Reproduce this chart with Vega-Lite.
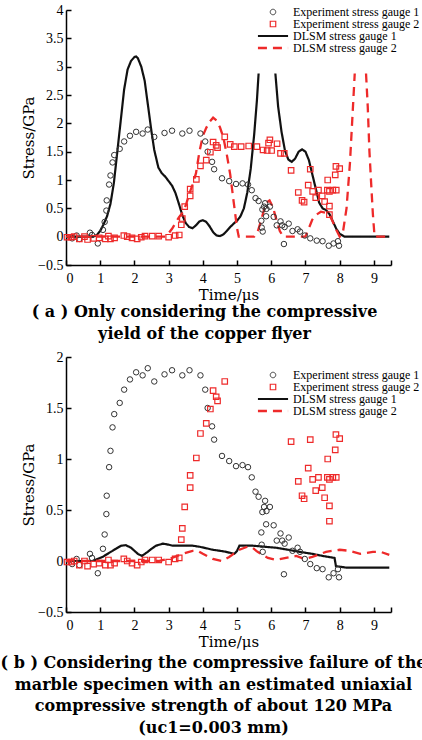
{
  "$schema": "https://vega.github.io/schema/vega-lite/v6.json",
  "padding": {"left": 0, "top": 3, "right": 0, "bottom": 0},
  "background": "white",
  "spacing": 8,
  "config": {
    "view": {"stroke": null},
    "axis": {
      "domainColor": "#000", "domainWidth": 1.5, "tickColor": "#000", "tickWidth": 1.5, "tickSize": -5,
      "labelFont": "Liberation Serif", "labelFontSize": 14, "labelColor": "#000", "labelPadding": 8,
      "titleFont": "DejaVu Serif", "titleFontSize": 15, "titleFontWeight": "normal", "titleColor": "#000",
      "grid": false
    },
    "axisX": {"labelPadding": 11, "titlePadding": 2},
    "axisY": {"titlePadding": 1},
    "legend": {
      "labelFont": "Liberation Serif", "labelFontSize": 12, "labelColor": "#000",
      "symbolOffset": 12, "labelOffset": 14, "rowPadding": -1.5, "symbolSize": 30, "padding": 0
    },
    "title": {"font": "DejaVu Serif", "fontWeight": "bold", "fontSize": 16, "color": "#000", "lineHeight": 21.5, "frame": "group"}
  },
  "datasets": {
    "exp": [
      {"t": 0.18, "s": -0.03, "series": "Experiment stress gauge 1"},
      {"t": 0.31, "s": 0.02, "series": "Experiment stress gauge 1"},
      {"t": 0.39, "s": -0.04, "series": "Experiment stress gauge 1"},
      {"t": 0.70, "s": 0.07, "series": "Experiment stress gauge 1"},
      {"t": 0.76, "s": 0.03, "series": "Experiment stress gauge 1"},
      {"t": 0.93, "s": -0.12, "series": "Experiment stress gauge 1"},
      {"t": 1.08, "s": 0.12, "series": "Experiment stress gauge 1"},
      {"t": 1.13, "s": 0.26, "series": "Experiment stress gauge 1"},
      {"t": 1.18, "s": 0.46, "series": "Experiment stress gauge 1"},
      {"t": 1.19, "s": 0.64, "series": "Experiment stress gauge 1"},
      {"t": 1.26, "s": 0.92, "series": "Experiment stress gauge 1"},
      {"t": 1.30, "s": 1.08, "series": "Experiment stress gauge 1"},
      {"t": 1.36, "s": 1.31, "series": "Experiment stress gauge 1"},
      {"t": 1.41, "s": 1.44, "series": "Experiment stress gauge 1"},
      {"t": 1.57, "s": 1.55, "series": "Experiment stress gauge 1"},
      {"t": 1.70, "s": 1.68, "series": "Experiment stress gauge 1"},
      {"t": 1.87, "s": 1.78, "series": "Experiment stress gauge 1"},
      {"t": 2.05, "s": 1.85, "series": "Experiment stress gauge 1"},
      {"t": 2.24, "s": 1.82, "series": "Experiment stress gauge 1"},
      {"t": 2.39, "s": 1.89, "series": "Experiment stress gauge 1"},
      {"t": 2.58, "s": 1.76, "series": "Experiment stress gauge 1"},
      {"t": 2.88, "s": 1.83, "series": "Experiment stress gauge 1"},
      {"t": 3.10, "s": 1.87, "series": "Experiment stress gauge 1"},
      {"t": 3.40, "s": 1.82, "series": "Experiment stress gauge 1"},
      {"t": 3.61, "s": 1.87, "series": "Experiment stress gauge 1"},
      {"t": 3.93, "s": 1.82, "series": "Experiment stress gauge 1"},
      {"t": 4.07, "s": 1.68, "series": "Experiment stress gauge 1"},
      {"t": 4.14, "s": 1.50, "series": "Experiment stress gauge 1"},
      {"t": 4.27, "s": 1.32, "series": "Experiment stress gauge 1"},
      {"t": 4.33, "s": 1.19, "series": "Experiment stress gauge 1"},
      {"t": 4.56, "s": 1.03, "series": "Experiment stress gauge 1"},
      {"t": 4.77, "s": 0.98, "series": "Experiment stress gauge 1"},
      {"t": 4.97, "s": 0.93, "series": "Experiment stress gauge 1"},
      {"t": 5.16, "s": 0.94, "series": "Experiment stress gauge 1"},
      {"t": 5.32, "s": 0.92, "series": "Experiment stress gauge 1"},
      {"t": 5.43, "s": 0.82, "series": "Experiment stress gauge 1"},
      {"t": 5.54, "s": 0.68, "series": "Experiment stress gauge 1"},
      {"t": 5.63, "s": 0.63, "series": "Experiment stress gauge 1"},
      {"t": 5.82, "s": 0.59, "series": "Experiment stress gauge 1"},
      {"t": 5.74, "s": 0.48, "series": "Experiment stress gauge 1"},
      {"t": 5.86, "s": 0.49, "series": "Experiment stress gauge 1"},
      {"t": 5.96, "s": 0.53, "series": "Experiment stress gauge 1"},
      {"t": 5.79, "s": 0.53, "series": "Experiment stress gauge 1"},
      {"t": 5.71, "s": 0.28, "series": "Experiment stress gauge 1"},
      {"t": 5.85, "s": 0.36, "series": "Experiment stress gauge 1"},
      {"t": 6.07, "s": 0.35, "series": "Experiment stress gauge 1"},
      {"t": 5.72, "s": 0.16, "series": "Experiment stress gauge 1"},
      {"t": 5.75, "s": 0.09, "series": "Experiment stress gauge 1"},
      {"t": 6.27, "s": 0.27, "series": "Experiment stress gauge 1"},
      {"t": 6.16, "s": 0.20, "series": "Experiment stress gauge 1"},
      {"t": 6.32, "s": 0.20, "series": "Experiment stress gauge 1"},
      {"t": 6.39, "s": 0.17, "series": "Experiment stress gauge 1"},
      {"t": 6.51, "s": 0.23, "series": "Experiment stress gauge 1"},
      {"t": 6.37, "s": -0.13, "series": "Experiment stress gauge 1"},
      {"t": 6.62, "s": 0.10, "series": "Experiment stress gauge 1"},
      {"t": 6.77, "s": 0.13, "series": "Experiment stress gauge 1"},
      {"t": 6.84, "s": 0.09, "series": "Experiment stress gauge 1"},
      {"t": 6.98, "s": 0.02, "series": "Experiment stress gauge 1"},
      {"t": 7.14, "s": -0.03, "series": "Experiment stress gauge 1"},
      {"t": 7.33, "s": -0.07, "series": "Experiment stress gauge 1"},
      {"t": 7.50, "s": -0.08, "series": "Experiment stress gauge 1"},
      {"t": 7.68, "s": -0.16, "series": "Experiment stress gauge 1"},
      {"t": 7.82, "s": -0.12, "series": "Experiment stress gauge 1"},
      {"t": 7.95, "s": -0.08, "series": "Experiment stress gauge 1"},
      {"t": 7.98, "s": -0.16, "series": "Experiment stress gauge 1"},
      {"t": 0.03, "s": -0.01, "series": "Experiment stress gauge 2"},
      {"t": 0.15, "s": -0.01, "series": "Experiment stress gauge 2"},
      {"t": 0.24, "s": 0.0, "series": "Experiment stress gauge 2"},
      {"t": 0.39, "s": -0.04, "series": "Experiment stress gauge 2"},
      {"t": 0.54, "s": 0.0, "series": "Experiment stress gauge 2"},
      {"t": 0.63, "s": -0.05, "series": "Experiment stress gauge 2"},
      {"t": 0.81, "s": -0.03, "series": "Experiment stress gauge 2"},
      {"t": 0.97, "s": -0.02, "series": "Experiment stress gauge 2"},
      {"t": 1.15, "s": -0.04, "series": "Experiment stress gauge 2"},
      {"t": 1.24, "s": 0.01, "series": "Experiment stress gauge 2"},
      {"t": 1.30, "s": -0.04, "series": "Experiment stress gauge 2"},
      {"t": 1.42, "s": -0.02, "series": "Experiment stress gauge 2"},
      {"t": 1.69, "s": 0.02, "series": "Experiment stress gauge 2"},
      {"t": 1.79, "s": 0.0, "series": "Experiment stress gauge 2"},
      {"t": 1.93, "s": -0.02, "series": "Experiment stress gauge 2"},
      {"t": 2.08, "s": -0.04, "series": "Experiment stress gauge 2"},
      {"t": 2.20, "s": -0.01, "series": "Experiment stress gauge 2"},
      {"t": 2.31, "s": 0.01, "series": "Experiment stress gauge 2"},
      {"t": 2.52, "s": 0.01, "series": "Experiment stress gauge 2"},
      {"t": 2.71, "s": 0.01, "series": "Experiment stress gauge 2"},
      {"t": 3.00, "s": -0.01, "series": "Experiment stress gauge 2"},
      {"t": 3.19, "s": 0.02, "series": "Experiment stress gauge 2"},
      {"t": 3.31, "s": 0.03, "series": "Experiment stress gauge 2"},
      {"t": 3.37, "s": 0.21, "series": "Experiment stress gauge 2"},
      {"t": 3.40, "s": 0.32, "series": "Experiment stress gauge 2"},
      {"t": 3.47, "s": 0.53, "series": "Experiment stress gauge 2"},
      {"t": 3.63, "s": 0.72, "series": "Experiment stress gauge 2"},
      {"t": 3.63, "s": 0.84, "series": "Experiment stress gauge 2"},
      {"t": 3.81, "s": 1.01, "series": "Experiment stress gauge 2"},
      {"t": 3.93, "s": 1.25, "series": "Experiment stress gauge 2"},
      {"t": 4.10, "s": 1.35, "series": "Experiment stress gauge 2"},
      {"t": 4.22, "s": 1.49, "series": "Experiment stress gauge 2"},
      {"t": 4.30, "s": 1.67, "series": "Experiment stress gauge 2"},
      {"t": 4.39, "s": 1.61, "series": "Experiment stress gauge 2"},
      {"t": 4.43, "s": 1.57, "series": "Experiment stress gauge 2"},
      {"t": 4.64, "s": 1.76, "series": "Experiment stress gauge 2"},
      {"t": 6.58, "s": 1.17, "series": "Experiment stress gauge 2"},
      {"t": 6.79, "s": 0.78, "series": "Experiment stress gauge 2"},
      {"t": 6.90, "s": 0.64, "series": "Experiment stress gauge 2"},
      {"t": 6.96, "s": 0.61, "series": "Experiment stress gauge 2"},
      {"t": 7.08, "s": 0.91, "series": "Experiment stress gauge 2"},
      {"t": 7.14, "s": 1.19, "series": "Experiment stress gauge 2"},
      {"t": 7.21, "s": 0.80, "series": "Experiment stress gauge 2"},
      {"t": 7.30, "s": 0.69, "series": "Experiment stress gauge 2"},
      {"t": 7.38, "s": 0.82, "series": "Experiment stress gauge 2"},
      {"t": 7.49, "s": 0.72, "series": "Experiment stress gauge 2"},
      {"t": 7.56, "s": 0.62, "series": "Experiment stress gauge 2"},
      {"t": 7.65, "s": 1.00, "series": "Experiment stress gauge 2"},
      {"t": 7.64, "s": 0.82, "series": "Experiment stress gauge 2"},
      {"t": 7.70, "s": 0.54, "series": "Experiment stress gauge 2"},
      {"t": 7.70, "s": 0.80, "series": "Experiment stress gauge 2"},
      {"t": 7.80, "s": 0.82, "series": "Experiment stress gauge 2"},
      {"t": 7.87, "s": 1.09, "series": "Experiment stress gauge 2"},
      {"t": 7.90, "s": 0.82, "series": "Experiment stress gauge 2"},
      {"t": 7.89, "s": 1.24, "series": "Experiment stress gauge 2"},
      {"t": 8.00, "s": 1.20, "series": "Experiment stress gauge 2"},
      {"t": 7.70, "s": 0.39, "series": "Experiment stress gauge 2"}
    ],
    "expAextra": [
      {"t": 4.80, "s": 1.63, "series": "Experiment stress gauge 2"},
      {"t": 4.92, "s": 1.59, "series": "Experiment stress gauge 2"},
      {"t": 5.12, "s": 1.59, "series": "Experiment stress gauge 2"},
      {"t": 5.34, "s": 1.60, "series": "Experiment stress gauge 2"},
      {"t": 5.58, "s": 1.59, "series": "Experiment stress gauge 2"},
      {"t": 5.76, "s": 1.53, "series": "Experiment stress gauge 2"},
      {"t": 5.88, "s": 1.52, "series": "Experiment stress gauge 2"},
      {"t": 6.01, "s": 1.52, "series": "Experiment stress gauge 2"},
      {"t": 5.96, "s": 1.71, "series": "Experiment stress gauge 2"},
      {"t": 5.92, "s": 1.65, "series": "Experiment stress gauge 2"},
      {"t": 6.17, "s": 1.64, "series": "Experiment stress gauge 2"},
      {"t": 6.27, "s": 1.47, "series": "Experiment stress gauge 2"},
      {"t": 6.38, "s": 1.47, "series": "Experiment stress gauge 2"}
    ],
    "dlsmA": [
      {"t": 0, "s": 0, "series": "DLSM stress gauge 1", "seg": 1},
      {"t": 0.8, "s": 0.0, "series": "DLSM stress gauge 1", "seg": 1},
      {"t": 0.9, "s": 0.03, "series": "DLSM stress gauge 1", "seg": 1},
      {"t": 1.0, "s": 0.1, "series": "DLSM stress gauge 1", "seg": 1},
      {"t": 1.1, "s": 0.22, "series": "DLSM stress gauge 1", "seg": 1},
      {"t": 1.2, "s": 0.36, "series": "DLSM stress gauge 1", "seg": 1},
      {"t": 1.3, "s": 0.58, "series": "DLSM stress gauge 1", "seg": 1},
      {"t": 1.4, "s": 0.95, "series": "DLSM stress gauge 1", "seg": 1},
      {"t": 1.5, "s": 1.5, "series": "DLSM stress gauge 1", "seg": 1},
      {"t": 1.6, "s": 2.05, "series": "DLSM stress gauge 1", "seg": 1},
      {"t": 1.7, "s": 2.6, "series": "DLSM stress gauge 1", "seg": 1},
      {"t": 1.8, "s": 2.95, "series": "DLSM stress gauge 1", "seg": 1},
      {"t": 1.9, "s": 3.1, "series": "DLSM stress gauge 1", "seg": 1},
      {"t": 2.0, "s": 3.17, "series": "DLSM stress gauge 1", "seg": 1},
      {"t": 2.05, "s": 3.18, "series": "DLSM stress gauge 1", "seg": 1},
      {"t": 2.1, "s": 3.15, "series": "DLSM stress gauge 1", "seg": 1},
      {"t": 2.2, "s": 3.0, "series": "DLSM stress gauge 1", "seg": 1},
      {"t": 2.3, "s": 2.75, "series": "DLSM stress gauge 1", "seg": 1},
      {"t": 2.4, "s": 2.3, "series": "DLSM stress gauge 1", "seg": 1},
      {"t": 2.5, "s": 1.85, "series": "DLSM stress gauge 1", "seg": 1},
      {"t": 2.58, "s": 1.53, "series": "DLSM stress gauge 1", "seg": 1},
      {"t": 2.7, "s": 1.22, "series": "DLSM stress gauge 1", "seg": 1},
      {"t": 2.8, "s": 1.12, "series": "DLSM stress gauge 1", "seg": 1},
      {"t": 2.9, "s": 1.06, "series": "DLSM stress gauge 1", "seg": 1},
      {"t": 3.0, "s": 0.98, "series": "DLSM stress gauge 1", "seg": 1},
      {"t": 3.1, "s": 0.9, "series": "DLSM stress gauge 1", "seg": 1},
      {"t": 3.2, "s": 0.77, "series": "DLSM stress gauge 1", "seg": 1},
      {"t": 3.3, "s": 0.58, "series": "DLSM stress gauge 1", "seg": 1},
      {"t": 3.4, "s": 0.38, "series": "DLSM stress gauge 1", "seg": 1},
      {"t": 3.5, "s": 0.24, "series": "DLSM stress gauge 1", "seg": 1},
      {"t": 3.6, "s": 0.17, "series": "DLSM stress gauge 1", "seg": 1},
      {"t": 3.7, "s": 0.15, "series": "DLSM stress gauge 1", "seg": 1},
      {"t": 3.8, "s": 0.2, "series": "DLSM stress gauge 1", "seg": 1},
      {"t": 3.9, "s": 0.27, "series": "DLSM stress gauge 1", "seg": 1},
      {"t": 4.0, "s": 0.29, "series": "DLSM stress gauge 1", "seg": 1},
      {"t": 4.1, "s": 0.26, "series": "DLSM stress gauge 1", "seg": 1},
      {"t": 4.2, "s": 0.18, "series": "DLSM stress gauge 1", "seg": 1},
      {"t": 4.3, "s": 0.08, "series": "DLSM stress gauge 1", "seg": 1},
      {"t": 4.4, "s": 0.02, "series": "DLSM stress gauge 1", "seg": 1},
      {"t": 4.5, "s": 0.01, "series": "DLSM stress gauge 1", "seg": 1},
      {"t": 4.6, "s": 0.04, "series": "DLSM stress gauge 1", "seg": 1},
      {"t": 4.7, "s": 0.1, "series": "DLSM stress gauge 1", "seg": 1},
      {"t": 4.8, "s": 0.17, "series": "DLSM stress gauge 1", "seg": 1},
      {"t": 4.9, "s": 0.23, "series": "DLSM stress gauge 1", "seg": 1},
      {"t": 5.0, "s": 0.28, "series": "DLSM stress gauge 1", "seg": 1},
      {"t": 5.1, "s": 0.36, "series": "DLSM stress gauge 1", "seg": 1},
      {"t": 5.2, "s": 0.5, "series": "DLSM stress gauge 1", "seg": 1},
      {"t": 5.3, "s": 0.78, "series": "DLSM stress gauge 1", "seg": 1},
      {"t": 5.4, "s": 1.2, "series": "DLSM stress gauge 1", "seg": 1},
      {"t": 5.5, "s": 1.8, "series": "DLSM stress gauge 1", "seg": 1},
      {"t": 5.58, "s": 2.4, "series": "DLSM stress gauge 1", "seg": 1},
      {"t": 5.63, "s": 2.88, "series": "DLSM stress gauge 1", "seg": 1},
      {"t": 6.12, "s": 2.88, "series": "DLSM stress gauge 1", "seg": 2},
      {"t": 6.2, "s": 2.3, "series": "DLSM stress gauge 1", "seg": 2},
      {"t": 6.3, "s": 1.85, "series": "DLSM stress gauge 1", "seg": 2},
      {"t": 6.4, "s": 1.52, "series": "DLSM stress gauge 1", "seg": 2},
      {"t": 6.5, "s": 1.36, "series": "DLSM stress gauge 1", "seg": 2},
      {"t": 6.6, "s": 1.32, "series": "DLSM stress gauge 1", "seg": 2},
      {"t": 6.7, "s": 1.38, "series": "DLSM stress gauge 1", "seg": 2},
      {"t": 6.8, "s": 1.5, "series": "DLSM stress gauge 1", "seg": 2},
      {"t": 6.9, "s": 1.54, "series": "DLSM stress gauge 1", "seg": 2},
      {"t": 7.0, "s": 1.5, "series": "DLSM stress gauge 1", "seg": 2},
      {"t": 7.1, "s": 1.35, "series": "DLSM stress gauge 1", "seg": 2},
      {"t": 7.2, "s": 1.1, "series": "DLSM stress gauge 1", "seg": 2},
      {"t": 7.3, "s": 0.85, "series": "DLSM stress gauge 1", "seg": 2},
      {"t": 7.4, "s": 0.6, "series": "DLSM stress gauge 1", "seg": 2},
      {"t": 7.5, "s": 0.5, "series": "DLSM stress gauge 1", "seg": 2},
      {"t": 7.6, "s": 0.47, "series": "DLSM stress gauge 1", "seg": 2},
      {"t": 7.7, "s": 0.4, "series": "DLSM stress gauge 1", "seg": 2},
      {"t": 7.8, "s": 0.27, "series": "DLSM stress gauge 1", "seg": 2},
      {"t": 7.9, "s": 0.14, "series": "DLSM stress gauge 1", "seg": 2},
      {"t": 8.0, "s": 0.05, "series": "DLSM stress gauge 1", "seg": 2},
      {"t": 8.14, "s": 0.0, "series": "DLSM stress gauge 1", "seg": 2},
      {"t": 9.45, "s": 0.0, "series": "DLSM stress gauge 1", "seg": 2},
      {"t": 0, "s": 0, "series": "DLSM stress gauge 2", "seg": 3},
      {"t": 2.9, "s": 0.0, "series": "DLSM stress gauge 2", "seg": 3},
      {"t": 3.0, "s": 0.06, "series": "DLSM stress gauge 2", "seg": 3},
      {"t": 3.1, "s": 0.14, "series": "DLSM stress gauge 2", "seg": 3},
      {"t": 3.2, "s": 0.24, "series": "DLSM stress gauge 2", "seg": 3},
      {"t": 3.3, "s": 0.34, "series": "DLSM stress gauge 2", "seg": 3},
      {"t": 3.4, "s": 0.42, "series": "DLSM stress gauge 2", "seg": 3},
      {"t": 3.5, "s": 0.55, "series": "DLSM stress gauge 2", "seg": 3},
      {"t": 3.6, "s": 0.75, "series": "DLSM stress gauge 2", "seg": 3},
      {"t": 3.7, "s": 0.92, "series": "DLSM stress gauge 2", "seg": 3},
      {"t": 3.8, "s": 1.12, "series": "DLSM stress gauge 2", "seg": 3},
      {"t": 3.9, "s": 1.5, "series": "DLSM stress gauge 2", "seg": 3},
      {"t": 4.0, "s": 1.78, "series": "DLSM stress gauge 2", "seg": 3},
      {"t": 4.1, "s": 1.92, "series": "DLSM stress gauge 2", "seg": 3},
      {"t": 4.2, "s": 2.03, "series": "DLSM stress gauge 2", "seg": 3},
      {"t": 4.3, "s": 2.1, "series": "DLSM stress gauge 2", "seg": 3},
      {"t": 4.4, "s": 2.05, "series": "DLSM stress gauge 2", "seg": 3},
      {"t": 4.5, "s": 1.93, "series": "DLSM stress gauge 2", "seg": 3},
      {"t": 4.6, "s": 1.75, "series": "DLSM stress gauge 2", "seg": 3},
      {"t": 4.7, "s": 1.45, "series": "DLSM stress gauge 2", "seg": 3},
      {"t": 4.8, "s": 1.1, "series": "DLSM stress gauge 2", "seg": 3},
      {"t": 4.9, "s": 0.62, "series": "DLSM stress gauge 2", "seg": 3},
      {"t": 5.0, "s": 0.15, "series": "DLSM stress gauge 2", "seg": 3},
      {"t": 5.05, "s": 0.0, "series": "DLSM stress gauge 2", "seg": 3},
      {"t": 5.5, "s": 0.0, "series": "DLSM stress gauge 2", "seg": 3},
      {"t": 5.6, "s": 0.08, "series": "DLSM stress gauge 2", "seg": 3},
      {"t": 5.7, "s": 0.28, "series": "DLSM stress gauge 2", "seg": 3},
      {"t": 5.8, "s": 0.5, "series": "DLSM stress gauge 2", "seg": 3},
      {"t": 5.9, "s": 0.62, "series": "DLSM stress gauge 2", "seg": 3},
      {"t": 5.95, "s": 0.64, "series": "DLSM stress gauge 2", "seg": 3},
      {"t": 6.05, "s": 0.52, "series": "DLSM stress gauge 2", "seg": 3},
      {"t": 6.15, "s": 0.3, "series": "DLSM stress gauge 2", "seg": 3},
      {"t": 6.25, "s": 0.1, "series": "DLSM stress gauge 2", "seg": 3},
      {"t": 6.35, "s": 0.0, "series": "DLSM stress gauge 2", "seg": 3},
      {"t": 7.0, "s": 0.0, "series": "DLSM stress gauge 2", "seg": 3},
      {"t": 7.1, "s": 0.15, "series": "DLSM stress gauge 2", "seg": 3},
      {"t": 7.2, "s": 0.3, "series": "DLSM stress gauge 2", "seg": 3},
      {"t": 7.3, "s": 0.38, "series": "DLSM stress gauge 2", "seg": 3},
      {"t": 7.45, "s": 0.44, "series": "DLSM stress gauge 2", "seg": 3},
      {"t": 7.6, "s": 0.42, "series": "DLSM stress gauge 2", "seg": 3},
      {"t": 7.75, "s": 0.33, "series": "DLSM stress gauge 2", "seg": 3},
      {"t": 7.9, "s": 0.12, "series": "DLSM stress gauge 2", "seg": 3},
      {"t": 8.0, "s": 0.0, "series": "DLSM stress gauge 2", "seg": 3},
      {"t": 8.1, "s": 0.1, "series": "DLSM stress gauge 2", "seg": 3},
      {"t": 8.2, "s": 0.5, "series": "DLSM stress gauge 2", "seg": 3},
      {"t": 8.3, "s": 1.3, "series": "DLSM stress gauge 2", "seg": 3},
      {"t": 8.38, "s": 2.2, "series": "DLSM stress gauge 2", "seg": 3},
      {"t": 8.44, "s": 2.88, "series": "DLSM stress gauge 2", "seg": 3},
      {"t": 8.77, "s": 2.88, "series": "DLSM stress gauge 2", "seg": 4},
      {"t": 8.82, "s": 2.3, "series": "DLSM stress gauge 2", "seg": 4},
      {"t": 8.87, "s": 1.5, "series": "DLSM stress gauge 2", "seg": 4},
      {"t": 8.92, "s": 0.94, "series": "DLSM stress gauge 2", "seg": 4},
      {"t": 8.97, "s": 0.4, "series": "DLSM stress gauge 2", "seg": 4},
      {"t": 9.02, "s": 0.0, "series": "DLSM stress gauge 2", "seg": 4},
      {"t": 9.45, "s": 0.0, "series": "DLSM stress gauge 2", "seg": 4}
    ],
    "dlsmB": [
      {"t": 0, "s": 0, "series": "DLSM stress gauge 1", "seg": 1},
      {"t": 0.78, "s": 0.0, "series": "DLSM stress gauge 1", "seg": 1},
      {"t": 1.07, "s": 0.04, "series": "DLSM stress gauge 1", "seg": 1},
      {"t": 1.36, "s": 0.1, "series": "DLSM stress gauge 1", "seg": 1},
      {"t": 1.61, "s": 0.15, "series": "DLSM stress gauge 1", "seg": 1},
      {"t": 1.75, "s": 0.155, "series": "DLSM stress gauge 1", "seg": 1},
      {"t": 1.9, "s": 0.13, "series": "DLSM stress gauge 1", "seg": 1},
      {"t": 2.0, "s": 0.1, "series": "DLSM stress gauge 1", "seg": 1},
      {"t": 2.1, "s": 0.07, "series": "DLSM stress gauge 1", "seg": 1},
      {"t": 2.22, "s": 0.05, "series": "DLSM stress gauge 1", "seg": 1},
      {"t": 2.39, "s": 0.09, "series": "DLSM stress gauge 1", "seg": 1},
      {"t": 2.5, "s": 0.12, "series": "DLSM stress gauge 1", "seg": 1},
      {"t": 2.63, "s": 0.15, "series": "DLSM stress gauge 1", "seg": 1},
      {"t": 2.83, "s": 0.17, "series": "DLSM stress gauge 1", "seg": 1},
      {"t": 3.0, "s": 0.16, "series": "DLSM stress gauge 1", "seg": 1},
      {"t": 3.12, "s": 0.15, "series": "DLSM stress gauge 1", "seg": 1},
      {"t": 3.3, "s": 0.15, "series": "DLSM stress gauge 1", "seg": 1},
      {"t": 3.51, "s": 0.15, "series": "DLSM stress gauge 1", "seg": 1},
      {"t": 3.7, "s": 0.15, "series": "DLSM stress gauge 1", "seg": 1},
      {"t": 3.9, "s": 0.14, "series": "DLSM stress gauge 1", "seg": 1},
      {"t": 4.1, "s": 0.125, "series": "DLSM stress gauge 1", "seg": 1},
      {"t": 4.29, "s": 0.11, "series": "DLSM stress gauge 1", "seg": 1},
      {"t": 4.5, "s": 0.1, "series": "DLSM stress gauge 1", "seg": 1},
      {"t": 4.68, "s": 0.09, "series": "DLSM stress gauge 1", "seg": 1},
      {"t": 4.92, "s": 0.07, "series": "DLSM stress gauge 1", "seg": 1},
      {"t": 5.0, "s": 0.1, "series": "DLSM stress gauge 1", "seg": 1},
      {"t": 5.07, "s": 0.15, "series": "DLSM stress gauge 1", "seg": 1},
      {"t": 5.46, "s": 0.15, "series": "DLSM stress gauge 1", "seg": 1},
      {"t": 5.8, "s": 0.14, "series": "DLSM stress gauge 1", "seg": 1},
      {"t": 6.14, "s": 0.13, "series": "DLSM stress gauge 1", "seg": 1},
      {"t": 6.5, "s": 0.11, "series": "DLSM stress gauge 1", "seg": 1},
      {"t": 6.82, "s": 0.09, "series": "DLSM stress gauge 1", "seg": 1},
      {"t": 7.2, "s": 0.07, "series": "DLSM stress gauge 1", "seg": 1},
      {"t": 7.5, "s": 0.05, "series": "DLSM stress gauge 1", "seg": 1},
      {"t": 7.85, "s": 0.03, "series": "DLSM stress gauge 1", "seg": 1},
      {"t": 7.89, "s": -0.05, "series": "DLSM stress gauge 1", "seg": 1},
      {"t": 8.19, "s": -0.065, "series": "DLSM stress gauge 1", "seg": 1},
      {"t": 9.45, "s": -0.065, "series": "DLSM stress gauge 1", "seg": 1},
      {"t": 0, "s": 0, "series": "DLSM stress gauge 2", "seg": 2},
      {"t": 2.7, "s": 0.0, "series": "DLSM stress gauge 2", "seg": 2},
      {"t": 3.1, "s": 0.03, "series": "DLSM stress gauge 2", "seg": 2},
      {"t": 3.41, "s": 0.07, "series": "DLSM stress gauge 2", "seg": 2},
      {"t": 3.7, "s": 0.1, "series": "DLSM stress gauge 2", "seg": 2},
      {"t": 3.85, "s": 0.1, "series": "DLSM stress gauge 2", "seg": 2},
      {"t": 4.0, "s": 0.07, "series": "DLSM stress gauge 2", "seg": 2},
      {"t": 4.29, "s": 0.02, "series": "DLSM stress gauge 2", "seg": 2},
      {"t": 4.55, "s": 0.0, "series": "DLSM stress gauge 2", "seg": 2},
      {"t": 4.77, "s": 0.04, "series": "DLSM stress gauge 2", "seg": 2},
      {"t": 5.07, "s": 0.11, "series": "DLSM stress gauge 2", "seg": 2},
      {"t": 5.3, "s": 0.14, "series": "DLSM stress gauge 2", "seg": 2},
      {"t": 5.45, "s": 0.13, "series": "DLSM stress gauge 2", "seg": 2},
      {"t": 5.6, "s": 0.09, "series": "DLSM stress gauge 2", "seg": 2},
      {"t": 5.9, "s": 0.03, "series": "DLSM stress gauge 2", "seg": 2},
      {"t": 6.14, "s": 0.01, "series": "DLSM stress gauge 2", "seg": 2},
      {"t": 6.43, "s": 0.03, "series": "DLSM stress gauge 2", "seg": 2},
      {"t": 6.73, "s": 0.05, "series": "DLSM stress gauge 2", "seg": 2},
      {"t": 6.97, "s": 0.02, "series": "DLSM stress gauge 2", "seg": 2},
      {"t": 7.2, "s": 0.04, "series": "DLSM stress gauge 2", "seg": 2},
      {"t": 7.6, "s": 0.09, "series": "DLSM stress gauge 2", "seg": 2},
      {"t": 8.0, "s": 0.11, "series": "DLSM stress gauge 2", "seg": 2},
      {"t": 8.28, "s": 0.1, "series": "DLSM stress gauge 2", "seg": 2},
      {"t": 8.6, "s": 0.07, "series": "DLSM stress gauge 2", "seg": 2},
      {"t": 8.97, "s": 0.09, "series": "DLSM stress gauge 2", "seg": 2},
      {"t": 9.2, "s": 0.09, "series": "DLSM stress gauge 2", "seg": 2},
      {"t": 9.45, "s": 0.06, "series": "DLSM stress gauge 2", "seg": 2}
    ]
  },
  "resolve": {
    "scale": {"color": "independent", "shape": "independent", "strokeDash": "independent", "strokeWidth": "independent"},
    "legend": {"color": "independent", "shape": "independent", "strokeDash": "independent", "strokeWidth": "independent"}
  },
  "vconcat": [
    {
      "width": 325,
      "height": 255,
      "title": {"text": ["( a ) Only considering the compressive", "yield of the copper flyer"], "orient": "bottom", "anchor": "middle", "offset": 2, "dx": -24},
      "encoding": {
        "x": {"field": "t", "type": "quantitative", "scale": {"domain": [0, 9.5], "nice": false},
              "axis": {"title": "Time/μs", "values": [0, 1, 2, 3, 4, 5, 6, 7, 8, 9, 9.5], "labelExpr": "datum.value == 9.5 ? '' : datum.label"}},
        "y": {"field": "s", "type": "quantitative", "scale": {"domain": [-0.5, 4], "nice": false},
              "axis": {"title": "Stress/GPa", "values": [-0.5, 0, 0.5, 1, 1.5, 2, 2.5, 3, 3.5, 4], "format": "~g"}}
      },
      "layer": [
        {
          "data": {"name": "dlsmA"},
          "mark": {"type": "line", "clip": true},
          "encoding": {
            "detail": {"field": "seg", "type": "nominal"},
            "color": {"field": "series", "type": "nominal", "scale": {"domain": ["Experiment stress gauge 1", "Experiment stress gauge 2", "DLSM stress gauge 1", "DLSM stress gauge 2"], "range": ["#333333", "#ee2a2a", "#111111", "#ee2a2a"]}, "legend": {"title": null, "orient": "none", "legendX": 189, "legendY": -4}},
            "strokeDash": {"field": "series", "type": "nominal", "scale": {"domain": ["Experiment stress gauge 1", "Experiment stress gauge 2", "DLSM stress gauge 1", "DLSM stress gauge 2"], "range": [[1, 0], [1, 0], [1, 0], [9, 6]]}, "legend": {"title": null, "orient": "none", "legendX": 189, "legendY": -4}},
            "strokeWidth": {"field": "series", "type": "nominal", "scale": {"type": "ordinal", "domain": ["Experiment stress gauge 1", "Experiment stress gauge 2", "DLSM stress gauge 1", "DLSM stress gauge 2"], "range": [1, 1.2, 2.2, 2.3]}, "legend": {"title": null, "orient": "none", "legendX": 189, "legendY": -4}}
          }
        },
        {
          "data": {"name": "exp"},
          "mark": {"type": "point", "filled": false, "size": 30, "opacity": 1},
          "encoding": {
            "color": {"field": "series", "type": "nominal", "scale": {"domain": ["Experiment stress gauge 1", "Experiment stress gauge 2", "DLSM stress gauge 1", "DLSM stress gauge 2"], "range": ["#333333", "#ee2a2a", "#111111", "#ee2a2a"]}, "legend": {"title": null, "orient": "none", "legendX": 189, "legendY": -4}},
            "shape": {"field": "series", "type": "nominal", "scale": {"domain": ["Experiment stress gauge 1", "Experiment stress gauge 2", "DLSM stress gauge 1", "DLSM stress gauge 2"], "range": ["circle", "square", "M-5.5,0H5.5", "M-5.5,0H5.5"]}, "legend": {"title": null, "orient": "none", "legendX": 189, "legendY": -4}},
            "strokeWidth": {"field": "series", "type": "nominal", "scale": {"type": "ordinal", "domain": ["Experiment stress gauge 1", "Experiment stress gauge 2", "DLSM stress gauge 1", "DLSM stress gauge 2"], "range": [1, 1.2, 2.2, 2.3]}, "legend": {"title": null, "orient": "none", "legendX": 189, "legendY": -4}}
          }
        },
        {
          "data": {"name": "expAextra"},
          "mark": {"type": "point", "filled": false, "size": 30, "opacity": 1},
          "encoding": {
            "color": {"field": "series", "type": "nominal", "scale": {"domain": ["Experiment stress gauge 1", "Experiment stress gauge 2", "DLSM stress gauge 1", "DLSM stress gauge 2"], "range": ["#333333", "#ee2a2a", "#111111", "#ee2a2a"]}, "legend": {"title": null, "orient": "none", "legendX": 189, "legendY": -4}},
            "shape": {"field": "series", "type": "nominal", "scale": {"domain": ["Experiment stress gauge 1", "Experiment stress gauge 2", "DLSM stress gauge 1", "DLSM stress gauge 2"], "range": ["circle", "square", "M-5.5,0H5.5", "M-5.5,0H5.5"]}, "legend": {"title": null, "orient": "none", "legendX": 189, "legendY": -4}},
            "strokeWidth": {"field": "series", "type": "nominal", "scale": {"type": "ordinal", "domain": ["Experiment stress gauge 1", "Experiment stress gauge 2", "DLSM stress gauge 1", "DLSM stress gauge 2"], "range": [1, 1.2, 2.2, 2.3]}, "legend": {"title": null, "orient": "none", "legendX": 189, "legendY": -4}}
          }
        }
      ]
    },
    {
      "width": 325,
      "height": 255,
      "title": {"text": ["( b ) Considering the compressive failure of the", "marble specimen with an estimated uniaxial", "compressive strength of about 120 MPa", "(uc1=0.003 mm)"], "orient": "bottom", "anchor": "middle", "offset": 6, "dx": -15},
      "encoding": {
        "x": {"field": "t", "type": "quantitative", "scale": {"domain": [0, 9.5], "nice": false},
              "axis": {"title": "Time/μs", "values": [0, 1, 2, 3, 4, 5, 6, 7, 8, 9, 9.5], "labelExpr": "datum.value == 9.5 ? '' : datum.label"}},
        "y": {"field": "s", "type": "quantitative", "scale": {"domain": [-0.5, 2], "nice": false},
              "axis": {"title": "Stress/GPa", "values": [-0.5, 0, 0.5, 1, 1.5, 2], "format": "~g"}}
      },
      "layer": [
        {
          "data": {"name": "dlsmB"},
          "mark": {"type": "line", "clip": true},
          "encoding": {
            "detail": {"field": "seg", "type": "nominal"},
            "color": {"field": "series", "type": "nominal", "scale": {"domain": ["Experiment stress gauge 1", "Experiment stress gauge 2", "DLSM stress gauge 1", "DLSM stress gauge 2"], "range": ["#333333", "#ee2a2a", "#111111", "#ee2a2a"]}, "legend": {"title": null, "orient": "none", "legendX": 189, "legendY": 12}},
            "strokeDash": {"field": "series", "type": "nominal", "scale": {"domain": ["Experiment stress gauge 1", "Experiment stress gauge 2", "DLSM stress gauge 1", "DLSM stress gauge 2"], "range": [[1, 0], [1, 0], [1, 0], [9, 6]]}, "legend": {"title": null, "orient": "none", "legendX": 189, "legendY": 12}},
            "strokeWidth": {"field": "series", "type": "nominal", "scale": {"type": "ordinal", "domain": ["Experiment stress gauge 1", "Experiment stress gauge 2", "DLSM stress gauge 1", "DLSM stress gauge 2"], "range": [1, 1.2, 2.2, 2.3]}, "legend": {"title": null, "orient": "none", "legendX": 189, "legendY": 12}}
          }
        },
        {
          "data": {"name": "exp"},
          "mark": {"type": "point", "filled": false, "size": 30, "opacity": 1},
          "encoding": {
            "color": {"field": "series", "type": "nominal", "scale": {"domain": ["Experiment stress gauge 1", "Experiment stress gauge 2", "DLSM stress gauge 1", "DLSM stress gauge 2"], "range": ["#333333", "#ee2a2a", "#111111", "#ee2a2a"]}, "legend": {"title": null, "orient": "none", "legendX": 189, "legendY": 12}},
            "shape": {"field": "series", "type": "nominal", "scale": {"domain": ["Experiment stress gauge 1", "Experiment stress gauge 2", "DLSM stress gauge 1", "DLSM stress gauge 2"], "range": ["circle", "square", "M-5.5,0H5.5", "M-5.5,0H5.5"]}, "legend": {"title": null, "orient": "none", "legendX": 189, "legendY": 12}},
            "strokeWidth": {"field": "series", "type": "nominal", "scale": {"type": "ordinal", "domain": ["Experiment stress gauge 1", "Experiment stress gauge 2", "DLSM stress gauge 1", "DLSM stress gauge 2"], "range": [1, 1.2, 2.2, 2.3]}, "legend": {"title": null, "orient": "none", "legendX": 189, "legendY": 12}}
          }
        }
      ]
    }
  ]
}
